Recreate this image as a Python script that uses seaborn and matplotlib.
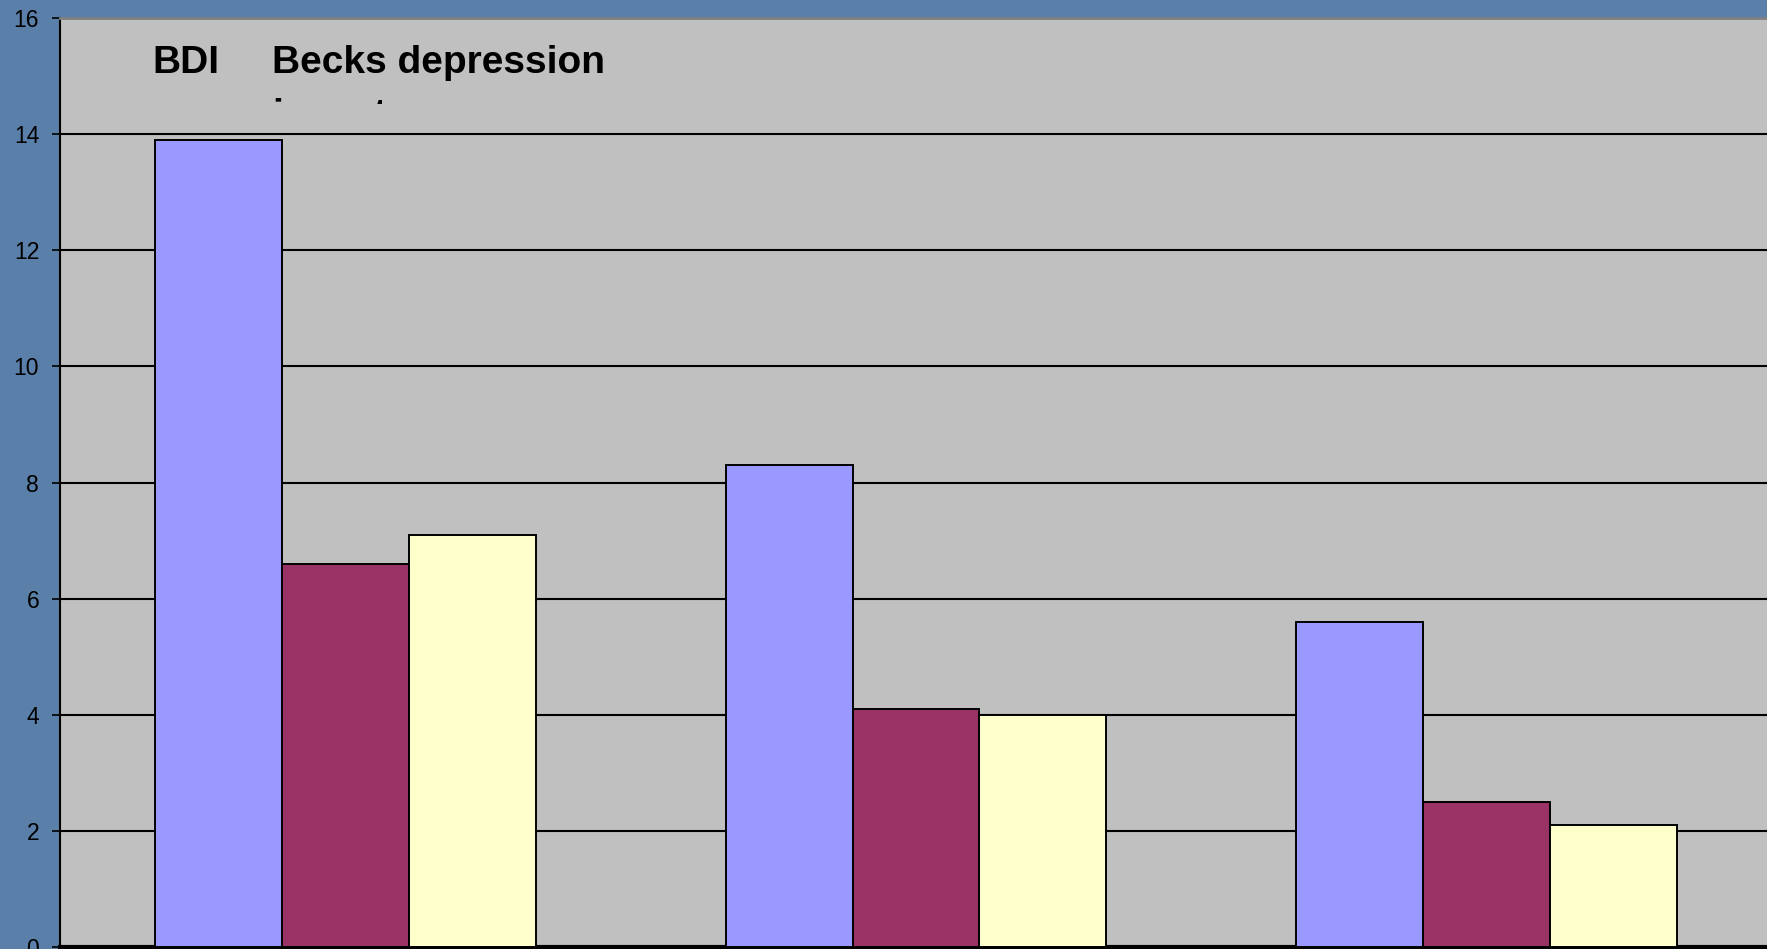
import numpy as np
import pandas as pd
import matplotlib
matplotlib.use("Agg")
import matplotlib.pyplot as plt
import seaborn as sns
from matplotlib.patches import Rectangle

# ---- data ----
groups = ["Group 1", "Group 2", "Group 3"]
series = ["Series 1", "Series 2", "Series 3"]
s1_values = [13.9, 8.3, 5.6]
s2_values = [6.6, 4.1, 2.5]
s3_values = [7.1, 4.0, 2.1]
y_ticks = [0, 2, 4, 6, 8, 10, 12, 14, 16]
title_left = "BDI"
title_right = "Becks depression"
title_line2 = "inventory"

colors = ["#9999ff", "#993366", "#ffffcc"]

df = pd.DataFrame({
    "group": groups * 3,
    "series": [series[0]] * 3 + [series[1]] * 3 + [series[2]] * 3,
    "value": s1_values + s2_values + s3_values,
})

sns.set_theme(style="white")
plt.rcParams["font.family"] = ["Liberation Sans", "DejaVu Sans"]

W, H = 1767, 949
fig = plt.figure(figsize=(W / 100, H / 100), dpi=100)
fig.patch.set_facecolor("#5a80aa")

left = 60 / W
right = 1772 / W
bottom = 2 / H
top = (H - 18) / H
ax = fig.add_axes([left, bottom, right - left, top - bottom])
ax.set_facecolor("#c0c0c0")

sns.barplot(data=df, x="group", y="value", hue="series", palette=colors,
            width=0.667, edgecolor="black", linewidth=1.4, saturation=1,
            legend=False, ax=ax, zorder=3)

ax.set_xlim(-0.5, 2.5)
ax.set_ylim(0, 16)
ax.set_yticks(y_ticks)
ax.set_yticklabels([str(t) for t in y_ticks], fontsize=16.5, color="black")
ax.set_xticks([])
ax.set_xlabel("")
ax.set_ylabel("")
ax.set_axisbelow(True)
ax.yaxis.grid(True, color="black", linewidth=1.5)
ax.xaxis.grid(False)
ax.tick_params(axis="y", which="both", direction="out", length=6, width=1.2,
               color="black", left=True, pad=9)

ax.spines["right"].set_visible(False)
ax.spines["top"].set_color("#808080")
ax.spines["top"].set_linewidth(2)
ax.spines["left"].set_color("black")
ax.spines["left"].set_linewidth(1.5)
ax.spines["bottom"].set_color("black")
ax.spines["bottom"].set_linewidth(3)

# title inside the plot area
fig.text(152 / W, 1 - 73 / H, title_left, fontsize=28, fontweight="bold",
         color="black", va="baseline", ha="left")
fig.text(272 / W, 1 - 73 / H, title_right, fontsize=28, fontweight="bold",
         color="black", va="baseline", ha="left")
# second title line, clipped so only its tops show
t2 = fig.text(272 / W, 1 - 126 / H, title_line2, fontsize=28, fontweight="bold",
              color="black", va="baseline", ha="left")
clip = Rectangle((0, H - 104), W, 10, transform=None)
t2.set_clip_path(clip)
t2.set_clip_on(True)

fig.savefig("out.png", dpi=100, facecolor=fig.get_facecolor())
